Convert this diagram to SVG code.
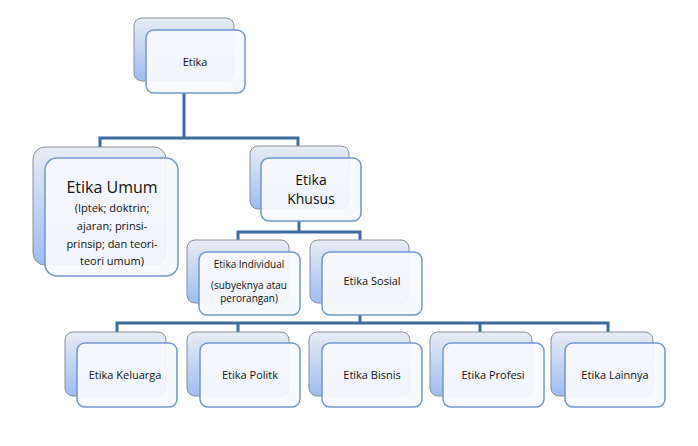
<svg xmlns="http://www.w3.org/2000/svg" width="698" height="446" viewBox="0 0 698 446">
<defs>
<linearGradient id="bg" x1="0" y1="0" x2="0" y2="1">
<stop offset="0" stop-color="#e8ecf4"/><stop offset="1" stop-color="#9fbcf0"/>
</linearGradient>
<style>
.b{fill:url(#bg);stroke:#8a8f99;stroke-width:1}
.f{fill:#f7f9fd;fill-opacity:0.93;stroke:#6f98cf;stroke-width:1.5}
.c{fill:none;stroke:#3f6c9f;stroke-width:3}
text{font-family:"Open Sans","Noto Sans",sans-serif;fill:#111;text-anchor:middle;font-size:11px}
</style>
</defs>
<rect width="698" height="446" fill="#fff"/>
<g id="connectors" class="c">
<path d="M184 93V138M100 149V138H298V158"/>
<path d="M299 221V232M238 240V232H360V252"/>
<path d="M360 315V323M117 332V323H608V332M238 323V332M480 323V332"/>
</g>
<g id="n-etika"><rect class="b" x="134" y="18" width="100" height="63" rx="8"/><rect class="f" x="146" y="30" width="99" height="63" rx="8"/><text x="195" y="66">Etika</text></g>
<g id="n-umum"><rect class="b" x="33" y="147" width="133" height="118" rx="12"/><rect class="f" x="45" y="158" width="133" height="118" rx="12"/>
<text x="112" y="193" style="font-size:16px">Etika Umum</text>
<text x="112" y="212">(Iptek; doktrin;</text><text x="112" y="230">ajaran; prinsi-</text><text x="112" y="248">prinsip; dan teori-</text><text x="112" y="265">teori umum)</text></g>
<g id="n-khusus"><rect class="b" x="250" y="146" width="99" height="63" rx="8"/><rect class="f" x="261" y="158" width="100" height="63" rx="8"/>
<text x="311" y="185" style="font-size:14px">Etika</text><text x="311" y="204" style="font-size:14px">Khusus</text></g>
<g id="n-individual"><rect class="b" x="187" y="240" width="102" height="63" rx="8"/><rect class="f" x="199" y="252" width="101" height="63" rx="8"/>
<text x="249" y="268" style="font-size:10px">Etika Individual</text><text x="249" y="289" style="font-size:10px">(subyeknya atau</text><text x="249" y="302" style="font-size:10px">perorangan)</text></g>
<g id="n-sosial"><rect class="b" x="310" y="240" width="99" height="63" rx="8"/><rect class="f" x="322" y="252" width="100" height="63" rx="8"/><text x="372" y="285">Etika Sosial</text></g>
<g id="n-keluarga"><rect class="b" x="65" y="332" width="101" height="64" rx="8"/><rect class="f" x="77" y="343" width="100" height="64" rx="8"/><text x="125" y="379">Etika Keluarga</text></g>
<g id="n-politk"><rect class="b" x="187" y="332" width="102" height="64" rx="8"/><rect class="f" x="200" y="343" width="100" height="64" rx="8"/><text x="250" y="379">Etika Politk</text></g>
<g id="n-bisnis"><rect class="b" x="309" y="332" width="101" height="64" rx="8"/><rect class="f" x="322" y="343" width="100" height="64" rx="8"/><text x="372" y="379">Etika Bisnis</text></g>
<g id="n-profesi"><rect class="b" x="430" y="332" width="102" height="64" rx="8"/><rect class="f" x="443" y="343" width="101" height="64" rx="8"/><text x="493" y="379">Etika Profesi</text></g>
<g id="n-lainnya"><rect class="b" x="551" y="332" width="102" height="64" rx="8"/><rect class="f" x="565" y="343" width="100" height="64" rx="8"/><text x="615" y="379">Etika Lainnya</text></g>
</svg>
